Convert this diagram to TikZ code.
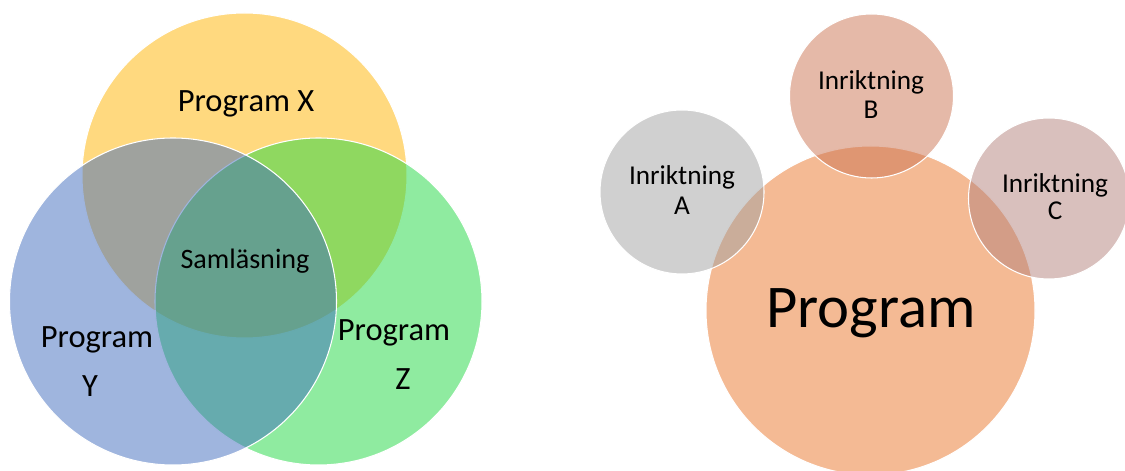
\documentclass[tikz,border=0pt]{standalone}
\usepackage{fontspec}
\setmainfont{Carlito}
\usetikzlibrary{positioning}
\definecolor{pgyellow}{HTML}{FFB300}
\definecolor{pggreen}{HTML}{20D742}
\definecolor{pgblue}{HTML}{3F6BBD}
\definecolor{pgorange}{HTML}{E9752A}
\definecolor{rigray}{HTML}{A1A1A1}
\definecolor{rirust}{HTML}{CB7351}
\definecolor{rimauve}{HTML}{B3817B}
\tikzset{
  blob/.style={circle,draw=white,line width=0.6pt,fill opacity=0.5,inner sep=0pt},
  vlabel/.style={anchor=base,text=black,font=\fontsize{18.5}{22}\selectfont},
  ilabel/.style={anchor=base,text=black,font=\fontsize{15.5}{18}\selectfont},
}
\begin{document}
\begin{tikzpicture}
  \useasboundingbox (0,0) rectangle (22.5,9.42);
  % ---------- venn of programs ----------
  \node[blob,fill=pgyellow,minimum size=6.5cm]  (progx) at (4.89,5.91) {};
  \node[blob,fill=pggreen,minimum size=6.54cm]  (progz) at (6.37,3.39) {};
  \node[blob,fill=pgblue,minimum size=6.54cm]   (progy) at (3.46,3.39) {};
  \node[vlabel] (txtx) at (4.92,7.18) {Program X};
  \node[anchor=base,font=\fontsize{16}{19}\selectfont] (txtsam) at (4.90,4.04) {Samläsning};
  \node[vlabel] (txty) at (1.94,2.46) {Program};
  \node[vlabel] (txtyy) at (1.80,1.48) {Y};
  \node[vlabel] (txtz) at (7.88,2.60) {Program};
  \node[vlabel] (txtzz) at (8.06,1.62) {Z};
  % ---------- program with tracks ----------
  \node[blob,fill=pgorange,minimum size=6.58cm] (prog) at (17.41,3.21) {};
  \node[blob,fill=rigray,minimum size=3.28cm]   (inra) at (13.64,5.58) {};
  \node[blob,fill=rirust,minimum size=3.28cm]   (inrb) at (17.43,7.50) {};
  \node[blob,fill=rimauve,minimum size=3.22cm]  (inrc) at (20.98,5.45) {};
  \node[anchor=base,font=\fontsize{34.5}{40}\selectfont] (txtprog) at (17.42,2.86) {Program};
  \node[ilabel] (txta) at (13.64,5.72) {Inriktning};
  \node[ilabel] (txtaa) at (13.64,5.12) {A};
  \node[ilabel] (txtb) at (17.42,7.63) {Inriktning};
  \node[ilabel] (txtbb) at (17.42,7.05) {B};
  \node[ilabel] (txtc) at (21.10,5.57) {Inriktning};
  \node[ilabel] (txtcc) at (21.10,5.02) {C};
\end{tikzpicture}
\end{document}
